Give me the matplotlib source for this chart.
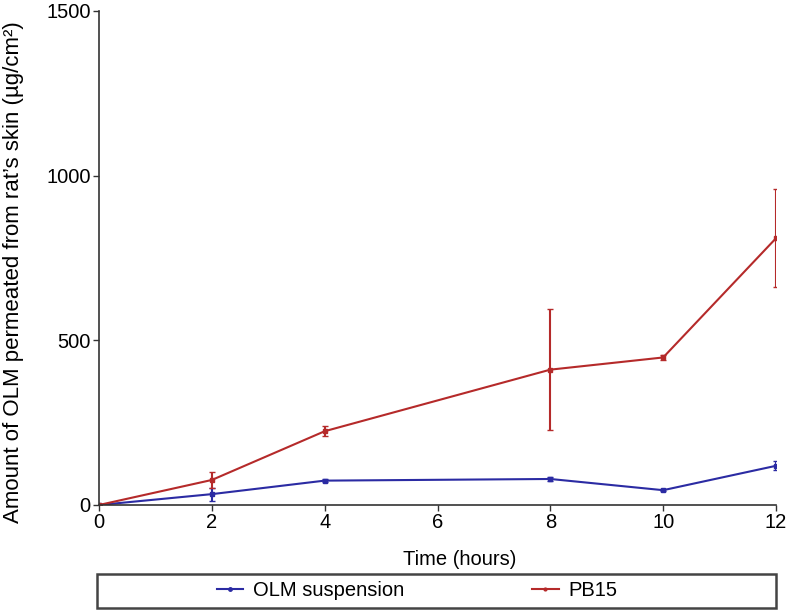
import matplotlib.pyplot as plt
from matplotlib.lines import Line2D
from matplotlib.patches import Rectangle

plt.rcParams['font.family'] = ['Liberation Sans', 'DejaVu Sans']

time_h = [0, 2, 4, 8, 10, 12]
olm_susp = [0, 33, 74, 79, 45, 119]
olm_susp_err = [0, 20, 5, 5, 4, 14]
pb15 = [0, 76, 224, 411, 448, 810]
pb15_err = [0, 24, 15, 183, 7, 148]
series_names = ['OLM suspension', 'PB15']

blue = '#2b2ba3'
red = '#b52a2a'
fs = 14.5

fig = plt.figure(figsize=(7.86, 6.12), dpi=100)
ax = fig.add_axes([99/786, 1 - 505/612, 677/786, 494/612])

ax.errorbar(time_h, olm_susp, yerr=olm_susp_err, color=blue, lw=1.5,
            marker='s', ms=3, capsize=2, elinewidth=1.5)
ax.errorbar(time_h, pb15, yerr=pb15_err, color=red, lw=1.5,
            marker='s', ms=2.5, capsize=2, elinewidth=1.5)

ax.set_xlim(0, 12)
ax.set_ylim(0, 1500)
ax.set_xticks([0, 2, 4, 6, 8, 10, 12])
ax.set_yticks([0, 500, 1000, 1500])
for s in ['top', 'right']:
    ax.spines[s].set_visible(False)
for s in ['left', 'bottom']:
    ax.spines[s].set_color('#333333')
    ax.spines[s].set_linewidth(1.2)
ax.tick_params(labelsize=fs, length=4, width=1, colors='#333333', labelcolor='black', pad=2)

ax.set_xlabel('Time (hours)', fontsize=fs)
ax.xaxis.set_label_coords((460 - 99) / 677, -45 / 494)
ax.set_ylabel('Amount of OLM permeated from rat\u2019s skin (\u00b5g/cm\u00b2)', fontsize=16)
ax.yaxis.set_label_coords((24 - 99) / 677, (505 - 272) / 494)

# legend frame
fig.patches.append(Rectangle((97/786, 1 - 608/612), 679/786, 34/612, transform=fig.transFigure,
                             fill=False, edgecolor='#444444', lw=1.8))
handles = [Line2D([], [], color=blue, lw=1.5, marker='o', ms=2.5),
           Line2D([], [], color=red, lw=1.5, marker='o', ms=2)]
fig.legend(handles, series_names, loc='center left', bbox_to_anchor=(217/786, 1 - 591/612),
           ncol=2, fontsize=fs, frameon=False, handlelength=1.3, handletextpad=0.5,
           borderpad=0, borderaxespad=0, columnspacing=6.35)

fig.savefig('out.png', dpi=100)
